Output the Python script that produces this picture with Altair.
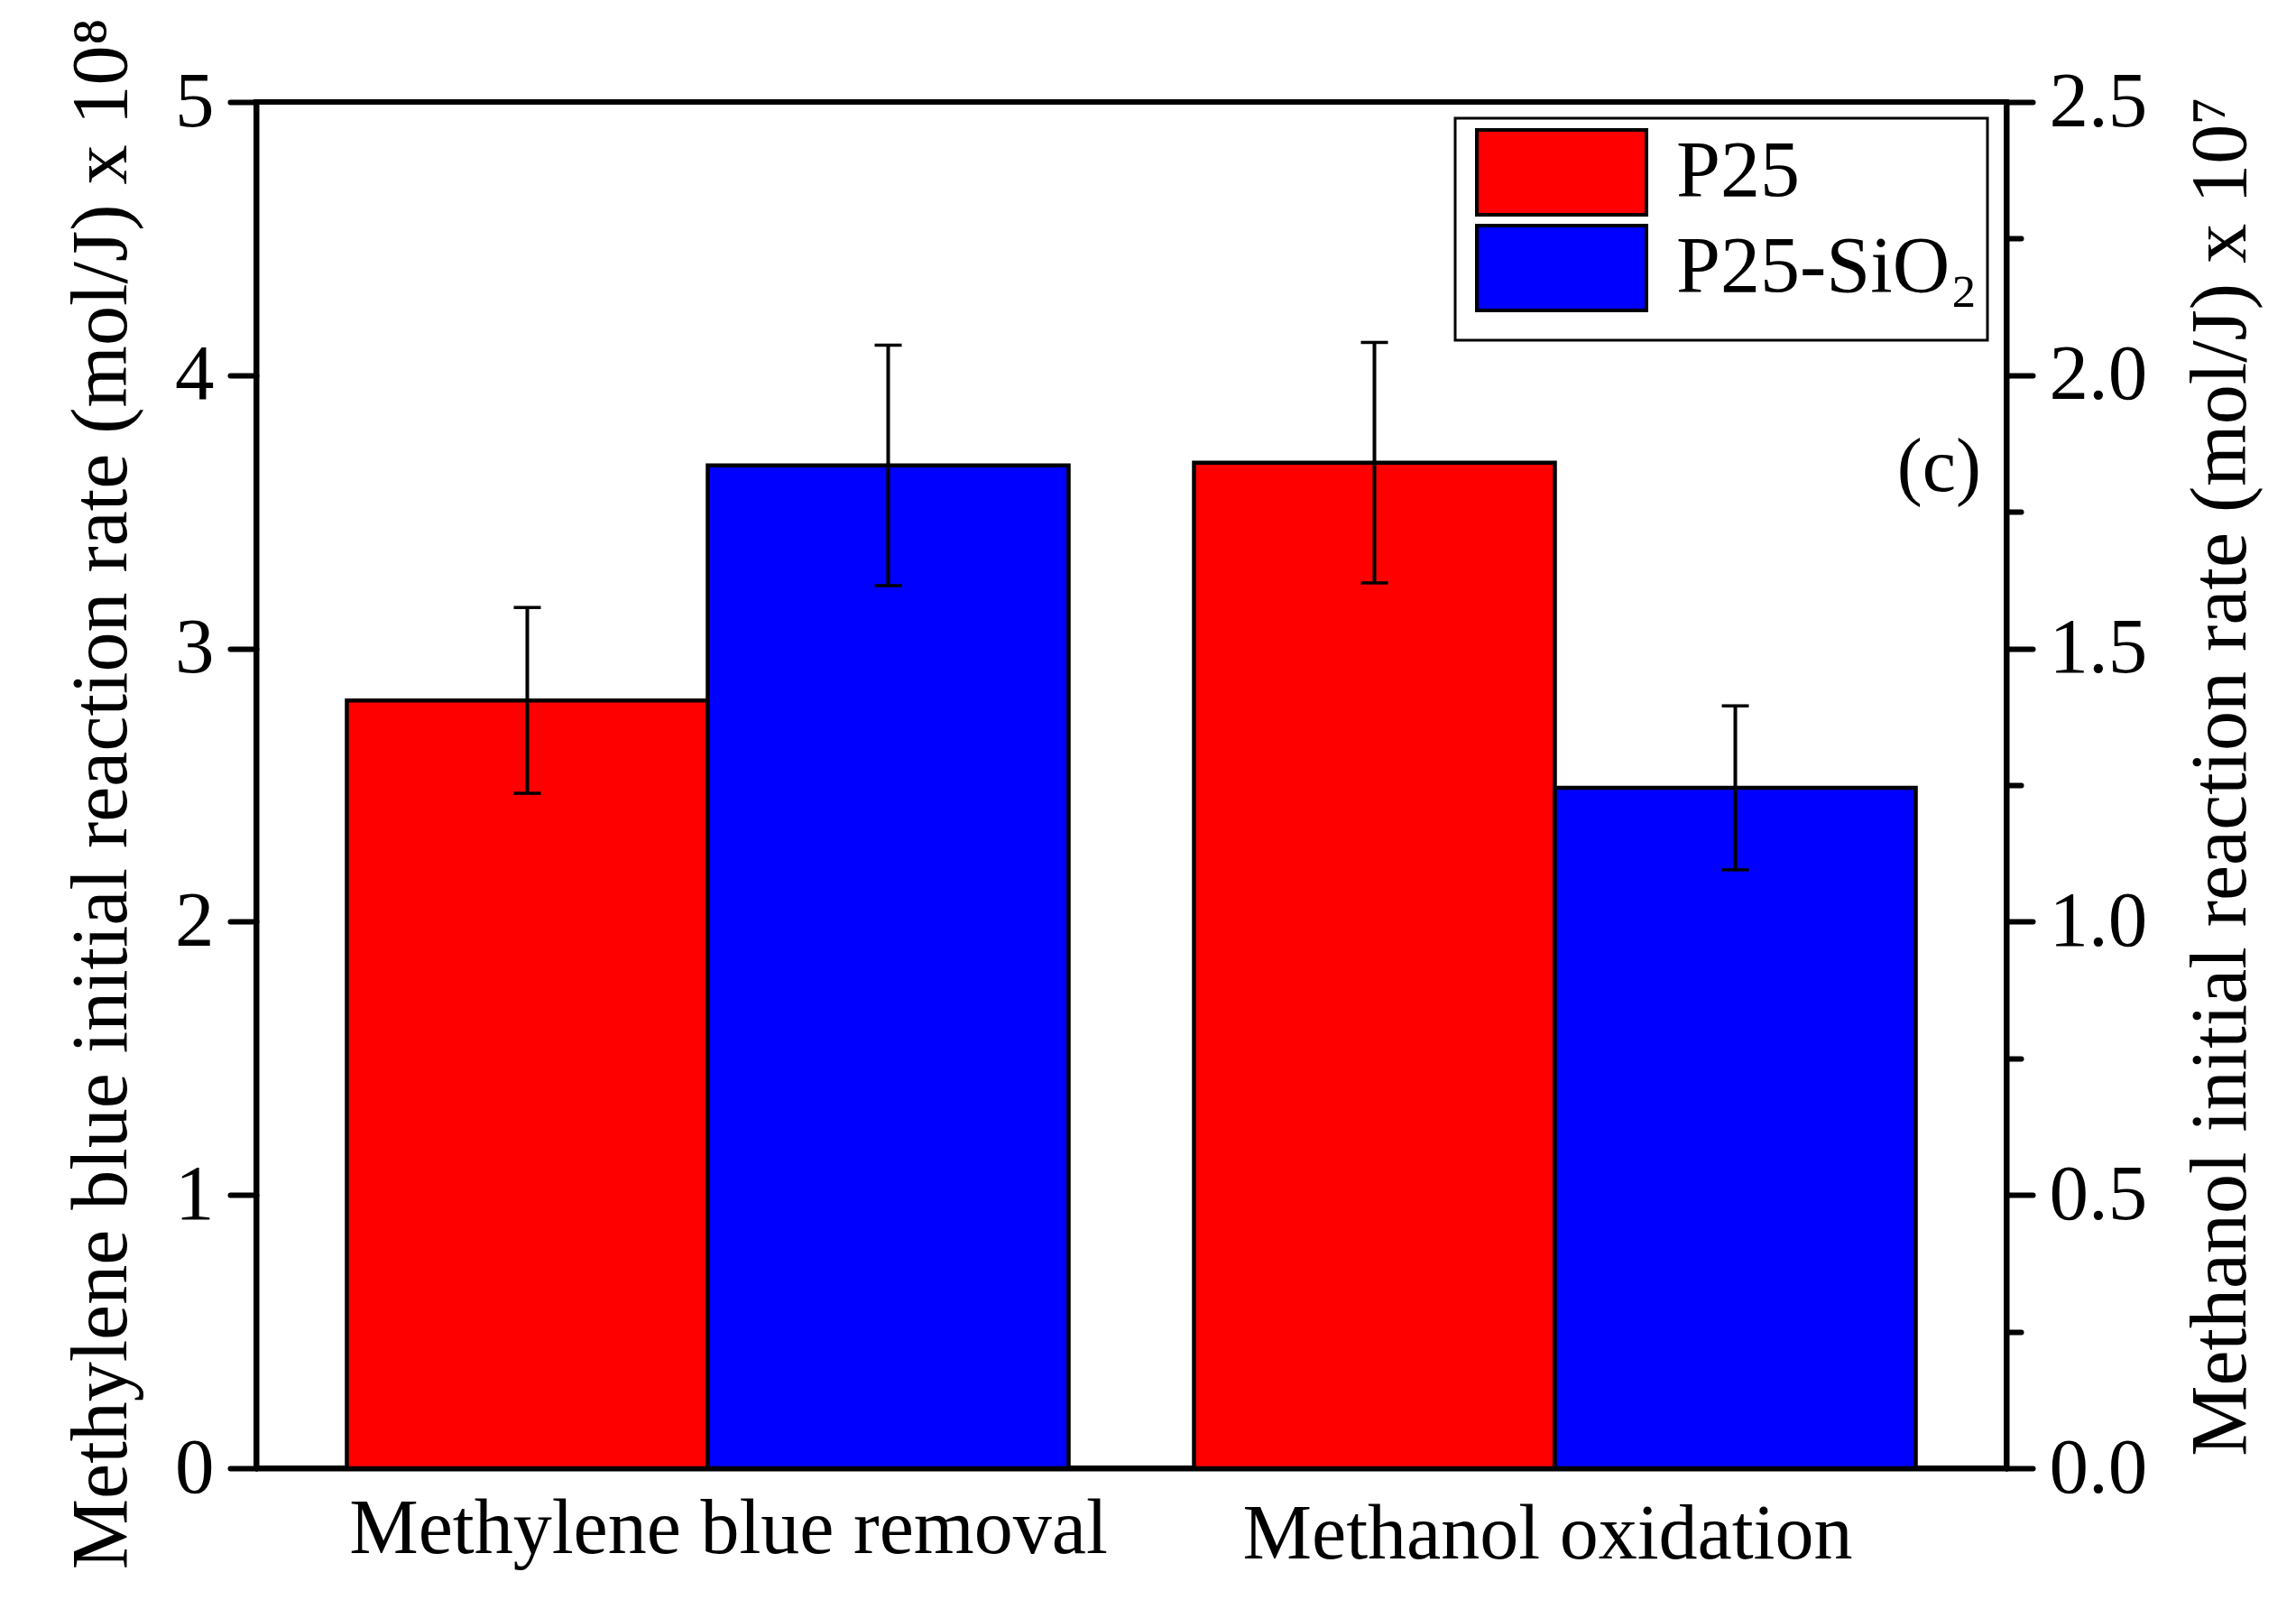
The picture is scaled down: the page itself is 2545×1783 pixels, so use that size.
import pandas as pd
import altair as alt

# categories on the x axis and the two samples
categories = ["Methylene blue removal", "Methanol oxidation"]
series = ["P25", "P25-SiO₂"]
colors = ["#ff0000", "#0000ff"]

# methylene blue removal, left axis (mol/J x 10^8)
mb_rate = [2.81, 3.67]
mb_err = [0.34, 0.44]

# methanol oxidation, right axis (mol/J x 10^7)
meoh_rate = [1.84, 1.245]
meoh_err = [0.22, 0.15]

left_ticks = [0, 1, 2, 3, 4, 5]
right_ticks = [0.0, 0.5, 1.0, 1.5, 2.0, 2.5]
right_minor = [0.25, 0.75, 1.25, 1.75, 2.25]
panel_label = ["(c)"]

FONT = "Liberation Serif"
W, H = 1940, 1514


def frame(cat, rate, err):
    return pd.DataFrame({
        "category": cat,
        "series": series,
        "rate": rate,
        "low": [r - e for r, e in zip(rate, err)],
        "high": [r + e for r, e in zip(rate, err)],
    })


mb = frame(categories[0], mb_rate, mb_err)
meoh = frame(categories[1], meoh_rate, meoh_err)

# the two category labels sit a little off-centre in the original
first_label = f"datum.value == '{categories[0]}'"
x_enc = alt.X(
    "category:N", sort=categories,
    scale=alt.Scale(domain=categories, paddingInner=0.148, paddingOuter=0.107),
    axis=alt.Axis(title="", orient="bottom", ticks=False, labelAngle=0,
                  labelFontSize=86, labelBaseline="alphabetic",
                  labelPadding={"condition": {"test": first_label, "value": 93}, "value": 99},
                  labelOffset={"condition": {"test": first_label, "value": 23}, "value": -8},
                  labelLimit=0, domainWidth=6, domainCap="round"),
)
x_off = alt.XOffset("series:N", sort=series,
                    scale=alt.Scale(domain=series, paddingInner=0, paddingOuter=0))
# blank bottom title only pads the legend box below the entries
color = alt.Color(
    "series:N", sort=series,
    scale=alt.Scale(domain=series, range=colors),
    legend=alt.Legend(
        title=" ", titleOrient="bottom", titleFontSize=20, titlePadding=0,
        orient="none", legendX=1329, legendY=18, direction="vertical",
        symbolType="M-1,-0.5H1V0.5H-1Z", symbolSize=35344,
        symbolStrokeColor="black", symbolStrokeWidth=4, symbolOffset=11,
        clipHeight=98, rowPadding=8, labelOffset=31, labelFont=FONT,
        labelFontSize=88, labelColor="black", labelLimit=0, padding=11,
        strokeColor="black", fillColor="white",
    ),
)

left_scale = alt.Scale(domain=[0, 5], nice=False, zero=True)
left_axis = alt.Axis(
    orient="left", values=left_ticks, format="d", grid=False,
    tickSize=29, tickWidth=6, tickCap="round", domainWidth=6, domainCap="round",
    labelFontSize=87, labelPadding=18,
    title="Methylene blue initial reaction rate (mol/J) x 10⁸",
    titleFontSize=88, titleAngle=270, titleBaseline="alphabetic",
    titleAlign="center", titleX=-145, titleY=766,
)

right_scale = alt.Scale(domain=[0, 2.5], nice=False, zero=True)
right_axis = alt.Axis(
    orient="right", values=right_ticks, format=".1f", grid=False,
    tickSize=29, tickWidth=6, tickCap="round", domainWidth=6, domainCap="round",
    labelFontSize=87, labelPadding=18,
    title="Methanol initial reaction rate (mol/J) x 10⁷",
    titleFontSize=88, titleAngle=270, titleBaseline="alphabetic",
    titleAlign="center", titleX=264, titleY=747,
)
# shorter unlabelled ticks between the major ones on the right
minor_axis = alt.Axis(
    orient="right", values=right_minor, labels=False, domain=False, grid=False,
    tickSize=16, tickWidth=6, tickCap="round", title="",
)


def bars(df, y_scale, y_axis):
    return alt.Chart(df).mark_bar(stroke="black", strokeWidth=4.5, opacity=1).encode(
        x=x_enc, xOffset=x_off,
        y=alt.Y("rate:Q", scale=y_scale, axis=y_axis),
        color=color,
    )


def errors(df, y_scale, y_axis):
    base = alt.Chart(df)
    rule = base.mark_rule(color="black", strokeWidth=4).encode(
        x=x_enc, xOffset=x_off,
        y=alt.Y("low:Q", scale=y_scale, axis=y_axis), y2="high:Q",
    )
    caps = [
        base.mark_tick(color="black", orient="horizontal", size=30,
                       thickness=3.5, opacity=1).encode(
            x=x_enc, xOffset=x_off,
            y=alt.Y(f + ":Q", scale=y_scale, axis=y_axis),
        )
        for f in ["low", "high"]
    ]
    return alt.layer(rule, *caps)


label = alt.Chart(pd.DataFrame({"label": panel_label})).mark_text(
    font=FONT, fontSize=84, align="right", baseline="middle", color="black"
).encode(
    text="label:N",
    x=alt.value(1912),
    y=alt.YDatum(3.66, type="quantitative", scale=left_scale, axis=left_axis),
)

left = alt.layer(bars(mb, left_scale, left_axis), errors(mb, left_scale, left_axis), label)
right = bars(meoh, right_scale, right_axis)
minor = errors(meoh, right_scale, minor_axis)

chart = alt.layer(left, right, minor).resolve_scale(y="independent").properties(
    width=W, height=H,
    autosize=alt.AutoSizeParams(type="none"),
    padding={"left": 276, "top": 105, "right": 305, "bottom": 140},
).configure_axis(
    labelFont=FONT, titleFont=FONT, labelColor="black", titleColor="black",
    domainColor="black", tickColor="black", titleFontWeight="normal",
).configure_legend(
    strokeWidth=3,
).configure_view(
    stroke="black", strokeWidth=6,
)

chart.save("out.html", embed_options={"renderer": "svg", "actions": False})
